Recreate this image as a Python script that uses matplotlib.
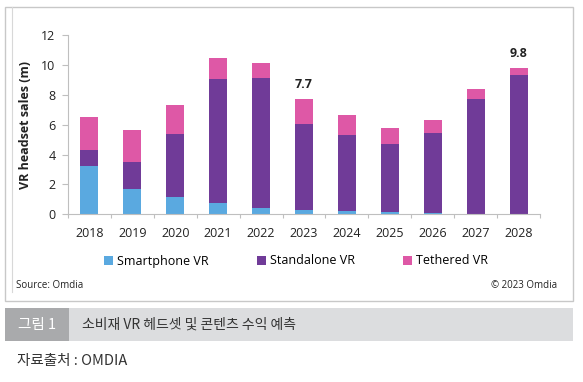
import matplotlib
matplotlib.use("Agg")
import matplotlib.pyplot as plt
from matplotlib.patches import Rectangle
from matplotlib.lines import Line2D
import numpy as np

# --- data ---
years = ["2018", "2019", "2020", "2021", "2022", "2023", "2024", "2025", "2026", "2027", "2028"]
smartphone_vr = [3.24, 1.67, 1.14, 0.76, 0.42, 0.29, 0.20, 0.15, 0.07, 0.05, 0.04]
standalone_vr = [1.07, 1.86, 4.26, 8.31, 8.74, 5.74, 5.11, 4.56, 5.36, 7.68, 9.32]
tethered_vr = [2.23, 2.12, 1.90, 1.43, 0.98, 1.67, 1.34, 1.07, 0.89, 0.65, 0.44]
total_labels = {"2023": "7.7", "2028": "9.8"}
series_names = ["Smartphone VR", "Standalone VR", "Tethered VR"]
y_ticks = [0, 2, 4, 6, 8, 10, 12]

colors = ["#5aa9e0", "#703b98", "#de58a6"]
W, H = 583, 382

plt.rcParams['font.family'] = ['Open Sans', 'DejaVu Sans']
fig = plt.figure(figsize=(W / 100, H / 100), dpi=100)


def fx(px):
    return px / W


def fy(py):
    return 1 - py / H


# outer chart frame
fig.patches.append(Rectangle((fx(5), fy(301)), fx(568), (301 - 7) / H,
                             transform=fig.transFigure, fill=False,
                             edgecolor="#c8c8c8", linewidth=1.0))
fig.lines.append(Line2D([fx(11.5), fx(11.5)], [fy(7), fy(292)],
                        transform=fig.transFigure, color="#d8d8d8", linewidth=0.8))

ax = fig.add_axes([fx(68), fy(214.3), fx(540 - 68), (214.3 - 35.3) / H])
x = np.arange(len(years))
bottom = np.zeros(len(years))
for vals, name, c in zip([smartphone_vr, standalone_vr, tethered_vr], series_names, colors):
    ax.bar(x, vals, width=0.42, bottom=bottom, color=c, label=name, zorder=2)
    bottom = bottom + np.array(vals)

for i, yr in enumerate(years):
    if yr in total_labels:
        ax.text(i, bottom[i] + 0.55, total_labels[yr], ha="center", va="bottom",
                fontsize=9, fontweight="bold", color="#222222")

ax.set_xlim(-0.5, len(years) - 0.5)
ax.set_ylim(0, 12)
ax.set_yticks(y_ticks)
ax.set_xticks(x)
ax.set_xticklabels(years)
ax.set_xticks(np.arange(-0.5, len(years), 1.0), minor=True)
ax.tick_params(axis="x", which="major", length=0, pad=9, labelsize=9, colors="#222222")
ax.tick_params(axis="x", which="minor", length=3, color="#bfbfbf", width=0.8)
ax.tick_params(axis="y", length=4, color="#bfbfbf", width=0.8, pad=5,
               labelsize=9, labelcolor="#222222")
for s in ["top", "right"]:
    ax.spines[s].set_visible(False)
for s in ["left", "bottom"]:
    ax.spines[s].set_color("#bfbfbf")
    ax.spines[s].set_linewidth(0.8)
ax.set_ylabel("VR headset sales (m)", fontsize=9, fontweight="bold", color="#222222", labelpad=7)

handles, labels = ax.get_legend_handles_labels()
fig.legend(handles, labels, loc="center", bbox_to_anchor=(fx(296), fy(261)), ncol=3,
           frameon=False, fontsize=9, handlelength=0.7, handleheight=0.7,
           handletextpad=0.3, columnspacing=3.9)

fig.text(fx(16), fy(286), "Source: Omdia", fontsize=7, va="center", ha="left", color="#222222")
fig.text(fx(557), fy(285), "\u00a9 2023 Omdia", fontsize=7, va="center", ha="right", color="#222222")

# caption band
fig.patches.append(Rectangle((fx(5), fy(341)), fx(568), (341 - 308) / H,
                             transform=fig.transFigure, color="#dcdddf", linewidth=0))
fig.patches.append(Rectangle((fx(5), fy(341)), fx(64), (341 - 308) / H,
                             transform=fig.transFigure, color="#a9aaac", linewidth=0))
kr = ['Noto Sans CJK KR', 'DejaVu Sans']
fig.text(fx(37), fy(325), "그림 1", family=kr, fontsize=10.5, color="white",
         ha="center", va="center")
fig.text(fx(82), fy(325), "소비재 VR 헤드셋 및 콘텐츠 수익 예측", family=kr, fontsize=10,
         color="#333333", ha="left", va="center", fontweight="light")
fig.text(fx(17), fy(361), "자료출처 : OMDIA", family=kr, fontsize=10.5,
         color="#333333", ha="left", va="center", fontweight="light")

fig.savefig("out.png", dpi=100)
